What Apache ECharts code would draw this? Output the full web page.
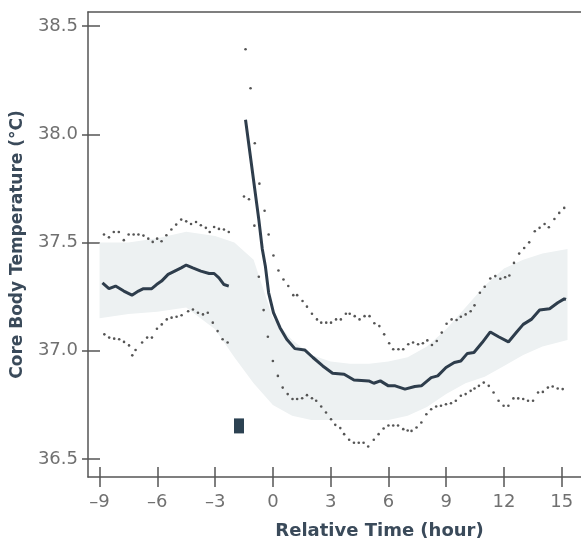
<!DOCTYPE html>
<html>
<head>
<meta charset="utf-8">
<script src="https://cdn.jsdelivr.net/npm/echarts@6/dist/echarts.min.js"></script>
<style>html,body{margin:0;padding:0;background:#fff;}#c{width:581px;height:547px;}</style>
</head>
<body>
<div id="c"></div>
<script>
// ---- data ----
const xTicks = [-9, -6, -3, 0, 3, 6, 9, 12, 15];
const yTicks = [36.5, 37.0, 37.5, 38.0, 38.5];

// mean core temperature, before the gap
const meanH1 = [-8.85,-8.51,-8.17,-7.74,-7.32,-6.98,-6.72,-6.29,-6.04,-5.78,-5.44,-5.10,-4.76,-4.50,-4.16,-3.74,-3.31,-3.05,-2.80,-2.54,-2.29];
const meanT1 = [37.314,37.287,37.299,37.276,37.257,37.276,37.287,37.287,37.306,37.322,37.353,37.368,37.383,37.396,37.383,37.368,37.357,37.357,37.337,37.306,37.299];

// mean core temperature, after the gap
const meanH2 = [-1.42,-1.08,-0.73,-0.55,-0.39,-0.22,0.03,0.37,0.72,1.14,1.65,2.08,2.59,3.10,3.70,4.21,4.98,5.24,5.58,6.00,6.35,6.86,7.37,7.71,8.22,8.56,8.99,9.42,9.76,10.10,10.44,10.87,11.29,11.72,12.23,12.66,13.00,13.42,13.85,14.37,14.79,15.13,15.22];
const meanT2 = [38.067,37.84,37.606,37.47,37.391,37.268,37.176,37.107,37.053,37.010,37.004,36.969,36.930,36.896,36.892,36.865,36.861,36.850,36.861,36.838,36.838,36.823,36.835,36.838,36.876,36.884,36.923,36.946,36.953,36.988,36.992,37.038,37.087,37.065,37.041,37.087,37.122,37.145,37.188,37.194,37.222,37.240,37.237];

// upper dotted bound, before gap
const upH1 = [-8.77,-8.51,-8.26,-8.00,-7.74,-7.49,-7.23,-6.98,-6.72,-6.47,-6.24,-6.01,-5.78,-5.53,-5.27,-5.02,-4.76,-4.50,-4.25,-3.99,-3.74,-3.48,-3.28,-3.05,-2.80,-2.54,-2.29];
const upT1 = [37.537,37.524,37.549,37.549,37.511,37.537,37.537,37.537,37.532,37.518,37.503,37.518,37.506,37.534,37.560,37.583,37.606,37.598,37.586,37.595,37.580,37.568,37.549,37.572,37.563,37.560,37.549];

// lower dotted bound, before gap
const loH1 = [-8.75,-8.50,-8.24,-7.98,-7.73,-7.47,-7.30,-7.13,-6.79,-6.53,-6.28,-6.02,-5.77,-5.51,-5.26,-5.00,-4.74,-4.40,-4.15,-3.89,-3.63,-3.38,-3.12,-2.87,-2.61,-2.35];
const loT1 = [37.076,37.061,37.056,37.053,37.041,37.025,36.979,37.004,37.038,37.061,37.061,37.102,37.122,37.145,37.153,37.157,37.164,37.183,37.191,37.176,37.168,37.176,37.130,37.091,37.053,37.038];

// upper dotted bound, after gap
const upH2 = [-1.42,-1.16,-0.94,-0.70,-0.43,-0.22,0.03,0.29,0.55,0.80,1.06,1.26,1.54,1.77,2.03,2.29,2.51,2.77,3.02,3.28,3.53,3.79,3.99,4.25,4.50,4.76,5.02,5.27,5.53,5.78,6.04,6.25,6.52,6.77,7.03,7.28,7.54,7.79,8.02,8.26,8.51,8.77,9.02,9.28,9.54,9.76,10.01,10.27,10.47,10.75,11.00,11.29,11.55,11.81,12.06,12.28,12.52,12.79,13.05,13.31,13.60,13.85,14.11,14.33,14.62,14.87,15.13];
const upT2 = [38.393,38.213,37.959,37.772,37.647,37.537,37.440,37.371,37.329,37.299,37.257,37.257,37.230,37.204,37.171,37.145,37.130,37.130,37.130,37.145,37.145,37.171,37.171,37.160,37.145,37.160,37.160,37.127,37.114,37.076,37.035,37.007,37.007,37.007,37.030,37.038,37.030,37.035,37.048,37.027,37.045,37.084,37.125,37.145,37.142,37.157,37.168,37.183,37.210,37.268,37.296,37.334,37.345,37.333,37.340,37.348,37.406,37.449,37.475,37.501,37.552,37.568,37.586,37.571,37.609,37.637,37.660];

// lower dotted bound, after gap
const loH2 = [-1.50,-1.24,-0.96,-0.73,-0.48,-0.26,0.00,0.26,0.51,0.77,1.02,1.26,1.52,1.77,2.03,2.25,2.51,2.76,3.02,3.24,3.50,3.70,3.96,4.21,4.46,4.71,4.95,5.24,5.49,5.75,6.00,6.25,6.50,6.77,7.00,7.20,7.46,7.71,7.97,8.22,8.48,8.73,8.99,9.25,9.50,9.76,10.01,10.27,10.47,10.70,10.95,11.21,11.46,11.72,11.98,12.23,12.49,12.74,13.00,13.25,13.51,13.77,14.02,14.28,14.53,14.79,15.05];
const loT2 = [37.713,37.700,37.578,37.342,37.188,37.065,36.953,36.884,36.830,36.800,36.777,36.777,36.781,36.795,36.781,36.769,36.743,36.715,36.684,36.658,36.643,36.615,36.589,36.575,36.575,36.575,36.558,36.589,36.615,36.641,36.655,36.655,36.655,36.638,36.632,36.630,36.646,36.669,36.707,36.730,36.743,36.746,36.753,36.758,36.769,36.792,36.800,36.815,36.826,36.838,36.853,36.838,36.807,36.769,36.746,36.746,36.780,36.780,36.777,36.769,36.769,36.807,36.810,36.830,36.835,36.826,36.823];

// shaded reference band
const bandH  = [-9,-7.5,-6,-4.5,-3,-2,-1,0,1,2,3,4,5,6,7,8,9,10,11,12,13,14,15.3];
const bandHi = [37.50,37.50,37.52,37.55,37.53,37.50,37.42,37.15,37.05,36.98,36.95,36.94,36.94,36.95,36.97,37.02,37.10,37.20,37.30,37.38,37.42,37.45,37.47];
const bandLo = [37.15,37.17,37.18,37.20,37.10,36.97,36.85,36.75,36.70,36.68,36.68,36.68,36.68,36.68,36.70,36.74,36.80,36.85,36.88,36.93,36.98,37.02,37.05];

// event marker
const markerH = [-1.76];
const markerT = [36.653];

// ---- chart ----
const zip = (a, b) => a.map((v, i) => [v, b[i]]);
const AX = '#555';
const LAB = '#707070';
const TITLE = '#3a4a5a';
const LINE = '#2e3d4c';
const DOT = '#555';

const chart = echarts.init(document.getElementById('c'), null, {renderer: 'canvas'});

const baseX = {
  type: 'value', min: -9.6, max: 16.0,
  splitLine: {show: false}
};
const baseY = {
  type: 'value', min: 36.417, max: 38.565, position: 'left',
  splitLine: {show: false}
};

const dotSeries = (h, t) => ({
  type: 'scatter', data: zip(h, t), symbol: 'circle', symbolSize: 2.6,
  itemStyle: {color: DOT, opacity: 1}, silent: true, z: 3
});

chart.setOption({
  animation: false,
  grid: {left: 88, top: 12, width: 500, height: 465, show: false},
  xAxis: [
    Object.assign({}, baseX, {
      position: 'bottom',
      axisLine: {show: true, onZero: false, lineStyle: {color: AX, width: 1.5}},
      axisTick: {show: true, length: 10, inside: false, customValues: xTicks, lineStyle: {color: AX, width: 1.5}},
      axisLabel: {show: true, customValues: xTicks, margin: 16, color: LAB, fontSize: 18, fontFamily: 'DejaVu Sans',
        formatter: v => String(v).replace('-', '\u2013')},
      name: 'Relative Time (hour)', nameLocation: 'middle', nameGap: 45,
      nameTextStyle: {color: TITLE, fontSize: 18, fontWeight: 'bold', fontFamily: 'DejaVu Sans', padding: [0, 0, 0, 90]}
    }),
    Object.assign({}, baseX, {
      position: 'bottom',
      axisLine: {show: false, onZero: false},
      axisTick: {show: true, length: 10, inside: true, customValues: xTicks, lineStyle: {color: AX, width: 1.5}},
      axisLabel: {show: false}
    }),
    Object.assign({}, baseX, {
      position: 'top',
      axisLine: {show: true, onZero: false, lineStyle: {color: AX, width: 1.5}},
      axisTick: {show: false},
      axisLabel: {show: false}
    })
  ],
  yAxis: [
    Object.assign({}, baseY, {
      axisLine: {show: true, onZero: false, lineStyle: {color: AX, width: 1.5}},
      axisTick: {show: true, length: 6, inside: false, customValues: yTicks, lineStyle: {color: AX, width: 1.5}},
      axisLabel: {show: true, customValues: yTicks, margin: 10, color: LAB, fontSize: 18, fontFamily: 'DejaVu Sans',
        formatter: v => Number(v).toFixed(1)},
      name: 'Core Body Temperature (\u00B0C)', nameLocation: 'middle', nameGap: 62, nameRotate: 90,
      nameTextStyle: {color: TITLE, fontSize: 17, fontWeight: 'bold', fontFamily: 'DejaVu Sans'}
    }),
    Object.assign({}, baseY, {
      axisLine: {show: false, onZero: false},
      axisTick: {show: true, length: 12, inside: true, customValues: yTicks, lineStyle: {color: AX, width: 1.5}},
      axisLabel: {show: false}
    })
  ],
  series: [
    {
      type: 'custom', silent: true, z: 1,
      data: bandH.map((h, i) => [h, bandLo[i], bandHi[i]]),
      encode: {x: 0, y: [1, 2]},
      renderItem: (params, api) => {
        if (params.dataIndex !== 0) return null;
        const pts = [];
        for (let i = 0; i < bandH.length; i++) pts.push(api.coord([bandH[i], bandHi[i]]));
        for (let i = bandH.length - 1; i >= 0; i--) pts.push(api.coord([bandH[i], bandLo[i]]));
        return {type: 'polygon', shape: {points: pts}, style: {fill: '#edf1f2'}};
      }
    },
    dotSeries(upH1, upT1),
    dotSeries(loH1, loT1),
    dotSeries(upH2, upT2),
    dotSeries(loH2, loT2),
    {
      type: 'line', data: zip(meanH1, meanT1), showSymbol: false, symbol: 'none', z: 4,
      lineStyle: {color: LINE, width: 3}, silent: true
    },
    {
      type: 'line', data: zip(meanH2, meanT2), showSymbol: false, symbol: 'none', z: 4,
      lineStyle: {color: LINE, width: 3}, silent: true
    },
    {
      type: 'scatter', data: zip(markerH, markerT), symbol: 'rect', symbolSize: [10, 15],
      itemStyle: {color: '#2c4252', opacity: 1}, silent: true, z: 5
    }
  ]
});
</script>
</body>
</html>
